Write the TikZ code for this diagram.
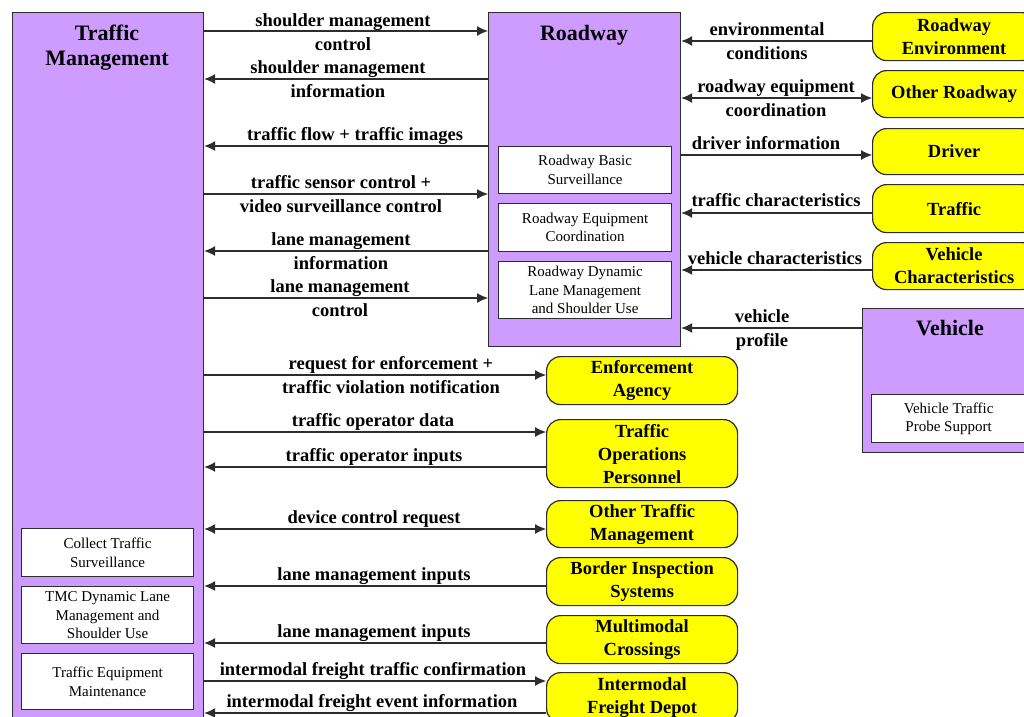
\documentclass[tikz,border=0pt]{standalone}
\usepackage{fontspec}
\setmainfont{Liberation Serif}
\usetikzlibrary{arrows.meta}
\definecolor{pur}{RGB}{206,156,255}
\definecolor{yel}{RGB}{255,255,0}
\definecolor{edge}{RGB}{45,45,45}
\begin{document}
\begin{tikzpicture}[
 x=1pt, y=-1pt,
 pbox/.style={draw=edge, line width=1.2pt, fill=pur, anchor=north west, inner sep=0pt},
 wbox/.style={draw=edge, line width=1.2pt, fill=white, anchor=north west, align=center, inner sep=0pt, font=\fontsize{15}{18.5}\selectfont},
 ybox/.style={draw=edge, line width=1.2pt, fill=yel, rounded corners=14pt, anchor=north west, align=center, inner sep=0pt, font=\fontsize{18.5}{23}\selectfont\bfseries},
 ttl/.style={anchor=base, inner sep=0pt, font=\fontsize{22}{26}\selectfont\bfseries},
 lbl/.style={anchor=base, inner sep=0pt, font=\fontsize{18.5}{22}\selectfont\bfseries},
 flow/.style={draw=edge, line width=1.1pt, -{Latex[length=11pt,width=10pt]}},
 flowb/.style={draw=edge, line width=1.1pt, {Latex[length=11pt,width=10pt]}-{Latex[length=11pt,width=10pt]}},
]
\useasboundingbox (0,0) rectangle (1024,716);
\fill[white] (0,0) rectangle (1024,716);

% Traffic Management
\node[pbox, minimum width=191pt, minimum height=730pt] (tm) at (12,12) {};
\node[ttl] (tmt1) at (107,40) {Traffic};
\node[ttl] (tmt2) at (107,65) {Management};
\node[wbox, minimum width=172pt, minimum height=48pt] (cts) at (21,528) {Collect Traffic\\Surveillance};
\node[wbox, minimum width=172pt, minimum height=57pt] (tmc) at (21,586) {TMC Dynamic Lane\\Management and\\Shoulder Use};
\node[wbox, minimum width=172pt, minimum height=56pt] (tem) at (21,653) {Traffic Equipment\\Maintenance};

% Roadway
\node[pbox, minimum width=192pt, minimum height=334pt] (rw) at (488,12) {};
\node[ttl] (rwt) at (584,40) {Roadway};
\node[wbox, minimum width=173pt, minimum height=47pt] (rbs) at (498,146) {Roadway Basic\\Surveillance};
\node[wbox, minimum width=173pt, minimum height=48pt] (rec) at (498,203) {Roadway Equipment\\Coordination};
\node[wbox, minimum width=173pt, minimum height=57pt] (rdl) at (498,261) {Roadway Dynamic\\Lane Management\\and Shoulder Use};

% Vehicle
\node[pbox, minimum width=176pt, minimum height=144pt] (veh) at (862,308) {};
\node[ttl] (veht) at (950,335) {Vehicle};
\node[wbox, minimum width=154pt, minimum height=48pt] (vtp) at (871,394) {Vehicle Traffic\\Probe Support};

% right terminators
\node[ybox, minimum width=163pt, minimum height=48pt] (renv) at (872,12) {Roadway\\Environment};
\node[ybox, minimum width=163pt, minimum height=47pt] (orw) at (872,70) {Other Roadway};
\node[ybox, minimum width=163pt, minimum height=46pt] (drv) at (872,128) {Driver};
\node[ybox, minimum width=163pt, minimum height=48pt] (trf) at (872,184) {Traffic};
\node[ybox, minimum width=163pt, minimum height=47pt] (vch) at (872,242) {Vehicle\\Characteristics};

% middle terminators
\node[ybox, minimum width=191pt, minimum height=48pt] (enf) at (546,356) {Enforcement\\Agency};
\node[ybox, minimum width=191pt, minimum height=68pt] (top) at (546,419) {Traffic\\Operations\\Personnel};
\node[ybox, minimum width=191pt, minimum height=47pt] (otm) at (546,500) {Other Traffic\\Management};
\node[ybox, minimum width=191pt, minimum height=48pt] (bis) at (546,557) {Border Inspection\\Systems};
\node[ybox, minimum width=191pt, minimum height=48pt] (mmc) at (546,615) {Multimodal\\Crossings};
\node[ybox, minimum width=191pt, minimum height=50pt] (ifd) at (546,672) {Intermodal\\Freight Depot};

% TM <-> Roadway
\draw[flow] (tm.east |- 0,31) -- (rw.west |- 0,31);
\node[lbl] at (343,26) {shoulder management};
\node[lbl] at (343,50) {control};
\draw[flow] (rw.west |- 0,79) -- (tm.east |- 0,79);
\node[lbl] at (338,73) {shoulder management};
\node[lbl] at (338,97) {information};
\draw[flow] (rw.west |- 0,146) -- (tm.east |- 0,146);
\node[lbl] at (355,140) {traffic flow + traffic images};
\draw[flow] (tm.east |- 0,194) -- (rw.west |- 0,194);
\node[lbl] at (341,188) {traffic sensor control +};
\node[lbl] at (341,212) {video surveillance control};
\draw[flow] (rw.west |- 0,251) -- (tm.east |- 0,251);
\node[lbl] at (341,245) {lane management};
\node[lbl] at (341,269) {information};
\draw[flow] (tm.east |- 0,298) -- (rw.west |- 0,298);
\node[lbl] at (340,292) {lane management};
\node[lbl] at (340,316) {control};

% Roadway <-> right
\draw[flow] (renv.west |- 0,41) -- (rw.east |- 0,41);
\node[lbl] at (767,35) {environmental};
\node[lbl] at (767,59) {conditions};
\draw[flowb] (rw.east |- 0,98) -- (orw.west |- 0,98);
\node[lbl] at (776,92) {roadway equipment};
\node[lbl] at (776,116) {coordination};
\draw[flow] (rw.east |- 0,155) -- (drv.west |- 0,155);
\node[lbl] at (766,149) {driver information};
\draw[flow] (trf.west |- 0,213) -- (rw.east |- 0,213);
\node[lbl] at (776,206) {traffic characteristics};
\draw[flow] (vch.west |- 0,270) -- (rw.east |- 0,270);
\node[lbl] at (775,264) {vehicle characteristics};
\draw[flow] (veh.west |- 0,328) -- (rw.east |- 0,328);
\node[lbl] at (762,322) {vehicle};
\node[lbl] at (762,346) {profile};

% TM <-> middle
\draw[flow] (tm.east |- 0,375) -- (enf.west |- 0,375);
\node[lbl] at (391,369) {request for enforcement +};
\node[lbl] at (391,393) {traffic violation notification};
\draw[flow] (tm.east |- 0,432) -- (top.west |- 0,432);
\node[lbl] at (373,426) {traffic operator data};
\draw[flow] (top.west |- 0,467) -- (tm.east |- 0,467);
\node[lbl] at (374,461) {traffic operator inputs};
\draw[flowb] (tm.east |- 0,529) -- (otm.west |- 0,529);
\node[lbl] at (374,523) {device control request};
\draw[flow] (bis.west |- 0,586) -- (tm.east |- 0,586);
\node[lbl] at (374,580) {lane management inputs};
\draw[flow] (mmc.west |- 0,643) -- (tm.east |- 0,643);
\node[lbl] at (374,637) {lane management inputs};
\draw[flow] (tm.east |- 0,681) -- (ifd.west |- 0,681);
\node[lbl] at (373,675) {intermodal freight traffic confirmation};
\draw[flow] (ifd.west |- 0,713) -- (tm.east |- 0,713);
\node[lbl] at (372,707) {intermodal freight event information};
\end{tikzpicture}
\end{document}
